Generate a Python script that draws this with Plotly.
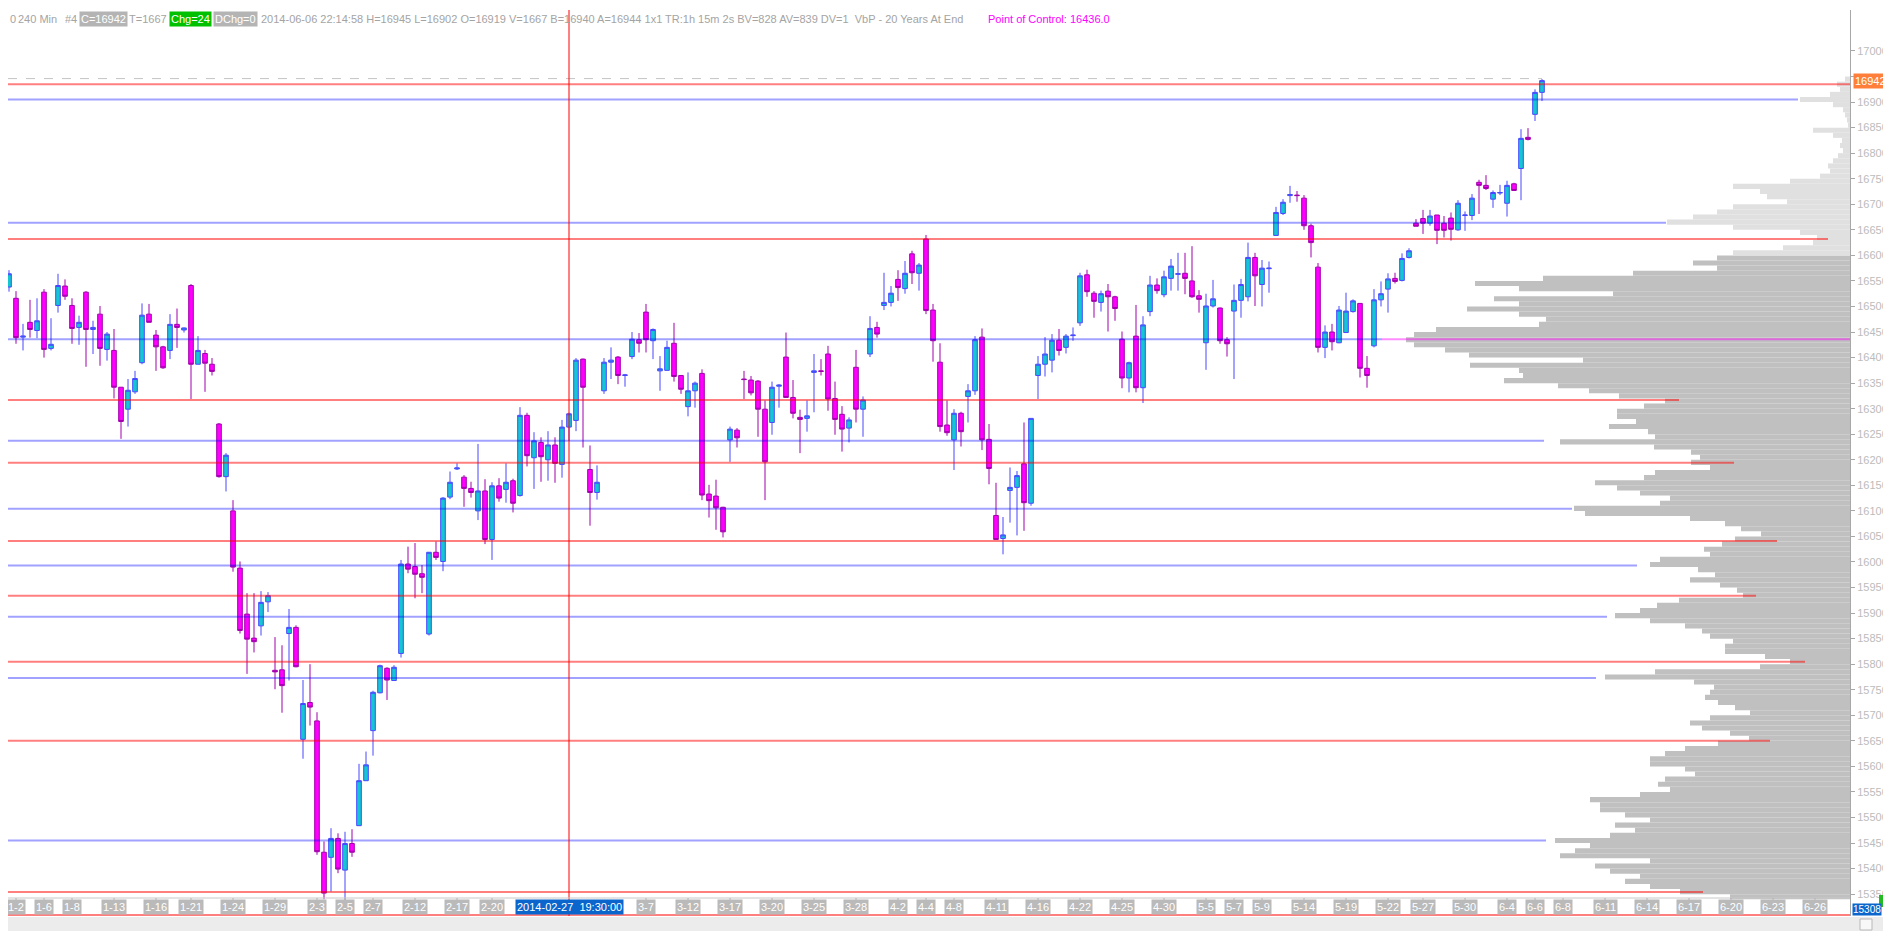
import plotly.graph_objects as go

# YM 240 min bars, 2014-01-02 .. 2014-06-06 (bar index 0..220)
bar_open = [16487, 16538, 16516, 16440, 16469, 16453, 16528, 16418, 16502, 16540,
            16502, 16459, 16528, 16455, 16485, 16416, 16414, 16342, 16299, 16333,
            16390, 16485, 16444, 16421, 16414, 16465, 16454, 16541, 16387, 16408,
            16387, 16270, 16167, 16100, 15988, 15898, 15851, 15875, 15922, 15788,
            15789, 15860, 15872, 15653, 15725, 15689, 15432, 15422, 15459, 15397,
            15449, 15484, 15572, 15670, 15744, 15792, 15768, 15821, 15996, 15991,
            15977, 15859, 16019, 16001, 16127, 16182, 16166, 16144, 16100, 16139,
            16044, 16149, 16142, 16159, 16130, 16287, 16204, 16234, 16200, 16229,
            16191, 16264, 16277, 16397, 16181, 16136, 16335, 16391, 16401, 16365,
            16402, 16435, 16489, 16433, 16374, 16375, 16428, 16365, 16304, 16335,
            16369, 16133, 16129, 16107, 16239, 16258, 16358, 16356, 16354, 16299,
            16273, 16344, 16401, 16322, 16283, 16281, 16371, 16374, 16407, 16320,
            16289, 16262, 16381, 16299, 16407, 16459, 16502, 16508, 16553, 16535,
            16603, 16565, 16632, 16493, 16391, 16268, 16239, 16291, 16324, 16335,
            16440, 16240, 16091, 16046, 16140, 16146, 16192, 16115, 16365, 16387,
            16395, 16434, 16420, 16443, 16468, 16562, 16526, 16508, 16530, 16519,
            16436, 16360, 16442, 16341, 16490, 16542, 16523, 16555, 16563, 16565,
            16550, 16521, 16429, 16501, 16497, 16435, 16491, 16512, 16519, 16596,
            16543, 16574, 16639, 16682, 16717, 16718, 16712, 16658, 16577, 16420,
            16450, 16429, 16449, 16490, 16506, 16379, 16423, 16513, 16534, 16555,
            16551, 16596, 16663, 16672, 16663, 16679, 16663, 16673, 16650, 16678,
            16678, 16743, 16737, 16710, 16722, 16702, 16740, 16770, 16831, 16876,
            16919]
bar_high = [16511, 16571, 16530, 16466, 16513, 16516, 16534, 16477, 16564, 16553,
            16516, 16482, 16530, 16472, 16501, 16450, 16456, 16342, 16358, 16374,
            16506, 16505, 16454, 16423, 16485, 16496, 16459, 16544, 16442, 16415,
            16399, 16272, 16213, 16121, 16001, 15939, 15939, 15943, 15941, 15853,
            15837, 15908, 15876, 15769, 15800, 15706, 15453, 15479, 15469, 15472,
            15477, 15605, 15629, 15748, 15799, 15794, 15798, 16004, 16030, 16037,
            15994, 16019, 16040, 16127, 16177, 16193, 16170, 16157, 16231, 16162,
            16156, 16164, 16193, 16163, 16303, 16292, 16254, 16244, 16256, 16244,
            16278, 16292, 16399, 16398, 16228, 16189, 16399, 16420, 16403, 16368,
            16450, 16448, 16505, 16457, 16403, 16433, 16468, 16365, 16371, 16353,
            16377, 16151, 16161, 16108, 16265, 16262, 16374, 16364, 16356, 16316,
            16353, 16348, 16449, 16356, 16298, 16316, 16407, 16397, 16423, 16353,
            16305, 16283, 16415, 16324, 16481, 16470, 16566, 16540, 16571, 16589,
            16609, 16585, 16640, 16505, 16428, 16316, 16299, 16294, 16348, 16442,
            16457, 16270, 16155, 16088, 16185, 16178, 16273, 16281, 16403, 16440,
            16446, 16456, 16446, 16459, 16566, 16572, 16530, 16531, 16544, 16521,
            16451, 16392, 16503, 16481, 16560, 16555, 16570, 16593, 16605, 16605,
            16618, 16532, 16525, 16552, 16498, 16440, 16543, 16554, 16625, 16605,
            16591, 16588, 16695, 16710, 16736, 16726, 16718, 16662, 16585, 16463,
            16466, 16501, 16527, 16514, 16506, 16403, 16534, 16549, 16565, 16566,
            16604, 16614, 16671, 16689, 16689, 16679, 16677, 16684, 16708, 16686,
            16720, 16748, 16757, 16727, 16738, 16746, 16742, 16847, 16849, 16925,
            16945]
bar_low = [16481, 16529, 16427, 16414, 16439, 16438, 16400, 16414, 16488, 16513,
           16427, 16425, 16382, 16407, 16384, 16394, 16320, 16241, 16265, 16329,
           16387, 16469, 16374, 16378, 16397, 16419, 16449, 16319, 16387, 16333,
           16365, 16165, 16138, 15981, 15860, 15781, 15823, 15856, 15902, 15751,
           15705, 15768, 15794, 15615, 15680, 15427, 15340, 15355, 15391, 15312,
           15423, 15484, 15572, 15621, 15743, 15730, 15768, 15813, 15978, 15929,
           15939, 15856, 16004, 15982, 16123, 16180, 16108, 16126, 16082, 16035,
           16004, 16118, 16116, 16097, 16128, 16187, 16143, 16157, 16159, 16155,
           16165, 16237, 16256, 16224, 16071, 16122, 16329, 16358, 16348, 16343,
           16397, 16410, 16410, 16397, 16335, 16375, 16353, 16329, 16285, 16302,
           16121, 16087, 16063, 16048, 16196, 16224, 16319, 16326, 16245, 16121,
           16249, 16302, 16322, 16281, 16213, 16255, 16293, 16365, 16296, 16249,
           16216, 16234, 16273, 16245, 16401, 16439, 16493, 16500, 16511, 16525,
           16544, 16531, 16485, 16392, 16255, 16247, 16180, 16226, 16273, 16327,
           16219, 16152, 16044, 16015, 16077, 16052, 16061, 16110, 16319, 16363,
           16371, 16404, 16408, 16433, 16462, 16519, 16478, 16490, 16451, 16472,
           16340, 16332, 16332, 16311, 16481, 16525, 16518, 16531, 16531, 16524,
           16517, 16488, 16376, 16498, 16427, 16402, 16358, 16478, 16510, 16501,
           16500, 16527, 16639, 16679, 16703, 16705, 16650, 16596, 16410, 16399,
           16414, 16428, 16449, 16488, 16361, 16341, 16420, 16500, 16488, 16545,
           16549, 16594, 16657, 16642, 16658, 16622, 16635, 16629, 16648, 16648,
           16669, 16681, 16728, 16693, 16718, 16676, 16727, 16708, 16825, 16863,
           16902]
bar_close = [16503, 16564, 16439, 16442, 16455, 16472, 16416, 16426, 16541, 16520,
             16457, 16469, 16455, 16459, 16418, 16446, 16342, 16275, 16336, 16359,
             16483, 16469, 16421, 16380, 16465, 16459, 16458, 16387, 16414, 16389,
             16373, 16167, 16209, 15990, 15866, 15849, 15844, 15921, 15934, 15785,
             15758, 15872, 15795, 15723, 15716, 15433, 15352, 15459, 15399, 15449,
             15432, 15572, 15603, 15745, 15797, 15769, 15794, 15996, 15986, 15976,
             15970, 16019, 16009, 16125, 16156, 16184, 16144, 16136, 16139, 16044,
             16149, 16125, 16156, 16115, 16287, 16208, 16237, 16206, 16229, 16193,
             16264, 16290, 16395, 16342, 16136, 16156, 16391, 16395, 16365, 16366,
             16436, 16428, 16435, 16455, 16378, 16420, 16363, 16338, 16335, 16350,
             16131, 16120, 16106, 16059, 16260, 16243, 16357, 16331, 16299, 16196,
             16342, 16346, 16322, 16291, 16279, 16286, 16374, 16373, 16319, 16279,
             16260, 16278, 16299, 16317, 16457, 16446, 16508, 16526, 16537, 16565,
             16566, 16581, 16492, 16433, 16265, 16253, 16291, 16255, 16335, 16435,
             16239, 16183, 16044, 16053, 16146, 16169, 16116, 16281, 16387, 16407,
             16434, 16414, 16442, 16444, 16560, 16529, 16510, 16525, 16519, 16496,
             16360, 16390, 16341, 16464, 16542, 16531, 16558, 16579, 16564, 16555,
             16519, 16514, 16501, 16515, 16433, 16427, 16512, 16543, 16596, 16560,
             16575, 16575, 16684, 16704, 16719, 16717, 16658, 16625, 16420, 16450,
             16431, 16493, 16491, 16511, 16379, 16365, 16513, 16525, 16554, 16549,
             16594, 16609, 16657, 16663, 16677, 16649, 16649, 16651, 16702, 16679,
             16712, 16737, 16731, 16723, 16723, 16737, 16727, 16829, 16827, 16919,
             16942]

# date labels on the time scale (bar index where each date starts)
date_ticks = [2, 6, 10, 16, 22, 27, 33, 39, 45, 49, 53, 59, 65, 70, 92, 98, 104,
              110, 116, 122, 128, 132, 136, 142, 148, 154, 160, 166, 172, 176, 180,
              186, 192, 198, 203, 209, 215, 219, 223, 229, 235, 241, 247, 253, 259]
date_labels = ["1-2", "1-6", "1-8", "1-13", "1-16", "1-21", "1-24", "1-29", "2-3",
               "2-5", "2-7", "2-12", "2-17", "2-20", "3-7", "3-12", "3-17", "3-20",
               "3-25", "3-28", "4-2", "4-4", "4-8", "4-11", "4-16", "4-22", "4-25",
               "4-30", "5-5", "5-7", "5-9", "5-14", "5-19", "5-22", "5-27", "5-30",
               "6-4", "6-6", "6-8", "6-11", "6-14", "6-17", "6-20", "6-23", "6-26"]
cursor_bar = 81
cursor_label = "2014-02-27  19:30:00"

# volume by price, 10 point rows starting at 15345
profile_vol = [120, 170, 200, 225, 210, 240, 255, 200, 290, 275, 260,
               295, 240, 215, 235, 200, 225, 250, 250, 260, 210,
               180, 192, 185, 155, 165, 200, 200, 185, 165, 132,
               101, 120, 148, 160, 140, 100, 115, 132, 145, 140,
               136, 156, 245, 195, 90, 60, 85, 125, 125, 117,
               140, 148, 165, 200, 235, 210, 193, 171, 107, 113,
               130, 160, 135, 152, 200, 190, 140, 146, 128, 115,
               89, 109, 125, 160, 265, 276, 190, 180, 210, 233,
               255, 206, 195, 140, 159, 150, 159, 196, 290, 195,
               202, 241, 214, 233, 233, 206, 185, 231, 261, 292,
               346, 327, 331, 380, 267, 381, 405, 436, 444, 436,
               414, 311, 304, 331, 383, 331, 356, 237, 331, 375,
               307, 217, 133, 157, 133, 117, 67, 37, 33, 50,
               117, 183, 157, 133, 117, 63, 83, 90, 117, 60,
               30, 20, 22, 17, 12, 7, 10, 8, 17, 37,
               2, 3, 5, 7, 17, 50, 20, 10, 13, 5]
profile_price = [15345 + 10 * k for k in range(len(profile_vol))]
value_area_high = 16605
poc = 16436.0

# high volume nodes (blue) and low volume nodes (red), with the volume where each line stops
hvn_levels = [16905, 16664, 16436, 16237, 16104, 15993, 15893, 15773, 15455]
hvn_reach = [52, 184, 468, 306, 278, 213, 243, 254, 304]
lvn_levels = [16935, 16632, 16317, 16194, 16041, 15934, 15805, 15650, 15354, 15309]
lvn_reach = [0, 22, 171, 116, 73, 94, 45, 80, 147, 0]

last_price = 16942
bottom_price = 15308
price_ticks = list(range(15350, 17001, 50))

# the page body has an 8px margin, so the figure sits at (8, 8) in the window
OFF = 8
WIN_W, WIN_H = 1891, 931
W, H = WIN_W - OFF, WIN_H - OFF
PLOT_L, PLOT_R, PLOT_T, PLOT_B = 8, 1850, 10, 916   # window pixels
ML, MR, MT, MB = PLOT_L - OFF, WIN_W - PLOT_R, PLOT_T - OFF, WIN_H - PLOT_B
plot_w = PLOT_R - PLOT_L
plot_h = PLOT_B - PLOT_T

FONT = "Liberation Sans, Arial, sans-serif"
GRAY_TXT = "#a4a4a4"

fig = go.Figure()

fig.add_trace(go.Bar(
    y=profile_price, x=profile_vol, orientation="h", width=10,
    xaxis="x2", yaxis="y",
    marker=dict(color=["#c0c0c0" if p < value_area_high else "#e0e0e0" for p in profile_price],
                line_width=0),
    hoverinfo="skip", showlegend=False,
))

fig.add_trace(go.Candlestick(
    x=list(range(len(bar_open))), open=bar_open, high=bar_high, low=bar_low, close=bar_close,
    increasing=dict(line=dict(color="#4848ff", width=1), fillcolor="#12c8d0"),
    decreasing=dict(line=dict(color="#a000aa", width=1), fillcolor="#ff00ff"),
    whiskerwidth=0, hoverinfo="skip", showlegend=False,
))

# bar i is drawn at window x = 2 + 7 i
x_left = (PLOT_L - 2) / 7
x_right = (PLOT_R - 2) / 7

shapes = []
for lvl, reach in zip(hvn_levels, hvn_reach):
    shapes.append(dict(type="line", xref="x2", yref="y", x0=plot_w, x1=reach, y0=lvl, y1=lvl,
                       line=dict(color="rgba(0,0,255,0.37)", width=2)))
for lvl, reach in zip(lvn_levels, lvn_reach):
    shapes.append(dict(type="line", xref="x2", yref="y", x0=plot_w, x1=reach, y0=lvl, y1=lvl,
                       line=dict(color="rgba(255,0,0,0.5)", width=2)))
# point of control extension
shapes.append(dict(type="line", xref="x2", yref="y", x0=hvn_reach[hvn_levels.index(round(poc))], x1=0,
                   y0=poc, y1=poc, line=dict(color="rgba(255,0,255,0.45)", width=2)))
# dotted high line
shapes.append(dict(type="line", xref="x", yref="y", x0=x_left, x1=len(bar_high) - 1,
                   y0=max(bar_high) + 1, y1=max(bar_high) + 1,
                   line=dict(color="#c4c4c4", width=1, dash="dash")))
# cursor line
shapes.append(dict(type="line", xref="x", yref="paper", x0=cursor_bar, x1=cursor_bar, y0=0, y1=1,
                   line=dict(color="#ff0000", width=1)))

py = lambda wy: (PLOT_B - wy) / plot_h
px_ = lambda wx: (wx - PLOT_L) / plot_w

# time scale strip
shapes.append(dict(type="line", xref="paper", yref="paper", x0=0, x1=1, y0=py(898), y1=py(898),
                   line=dict(color="#c8c8c8", width=1)))
for t in date_ticks:
    shapes.append(dict(type="line", xref="x", yref="paper", x0=t, x1=t, y0=py(902), y1=py(898),
                       line=dict(color="#b0b0b0", width=1)))
# window chrome at the bottom
shapes.append(dict(type="rect", xref="paper", yref="paper", x0=0, x1=px_(WIN_W), y0=py(917), y1=py(WIN_H),
                   fillcolor="#ececec", line_width=0))
shapes.append(dict(type="rect", xref="paper", yref="paper", x0=px_(1860), x1=px_(1872), y0=py(919), y1=py(930),
                   fillcolor="#f8f8f8", line=dict(color="#b8b8b8", width=1)))
shapes.append(dict(type="rect", xref="paper", yref="paper", x0=px_(1879), x1=px_(WIN_W), y0=py(895), y1=py(907),
                   fillcolor="#22bb22", line_width=0))

annotations = []
for t, lab in zip(date_ticks, date_labels):
    annotations.append(dict(x=t, xref="x", y=py(915), yref="paper", yanchor="bottom", text=lab,
                            showarrow=False, bgcolor="#bababa", borderpad=1,
                            font=dict(family=FONT, size=11, color="white")))
annotations.append(dict(x=cursor_bar, xref="x", y=py(915), yref="paper", yanchor="bottom", text=cursor_label,
                        showarrow=False, bgcolor="#0a66cc", borderpad=1,
                        font=dict(family=FONT, size=11, color="white")))

# header line
hy = py(19)
header = [
    (8, "0", None, GRAY_TXT),
    (16, "240 Min", None, GRAY_TXT),
    (63, "#4", None, GRAY_TXT),
    (79, "C=16942", "#b4b4b4", "white"),
    (127, "T=1667", None, GRAY_TXT),
    (169, "Chg=24", "#00c000", "white"),
    (213, "DChg=0", "#b4b4b4", "white"),
    (259, "2014-06-06 22:14:58 H=16945 L=16902 O=16919 V=1667 B=16940 A=16944 1x1 "
          "TR:1h 15m 2s BV=828 AV=839 DV=1  VbP - 20 Years At End", None, GRAY_TXT),
    (986, "Point of Control: 16436.0", None, "#ff00ff"),
]
for hx, txt, bg, col in header:
    annotations.append(dict(x=px_(hx), xref="paper", y=hy, yref="paper", xanchor="left", yanchor="middle",
                            text=txt, showarrow=False, bgcolor=bg or "rgba(0,0,0,0)", borderpad=1,
                            font=dict(family=FONT, size=11, color=col)))

annotations.append(dict(x=1, xref="paper", xshift=3, xanchor="left", y=last_price, yref="y",
                        yanchor="middle", text=str(last_price), showarrow=False, bgcolor="#ff7f3a",
                        borderpad=1, font=dict(family=FONT, size=11, color="white")))
annotations.append(dict(x=1, xref="paper", xshift=2, xanchor="left", y=py(916), yref="paper",
                        yanchor="bottom", text=str(bottom_price), showarrow=False, bgcolor="#0a66cc",
                        borderpad=0, font=dict(family=FONT, size=10, color="white")))

# the last-price box covers the tick label just above it
tick_text = ["" if abs(v - last_price) < 15 else str(v) for v in price_ticks]

fig.update_layout(
    width=W, height=H,
    margin=dict(l=ML, r=MR, t=MT, b=MB),
    paper_bgcolor="white", plot_bgcolor="white",
    showlegend=False, hovermode=False,
    boxgap=0.1, boxgroupgap=0.27,
    xaxis=dict(range=[x_left, x_right], showgrid=False, zeroline=False, showticklabels=False,
               showline=False, ticks="", rangeslider=dict(visible=False), fixedrange=True),
    xaxis2=dict(overlaying="x", anchor="y", range=[plot_w, 0], visible=False, fixedrange=True),
    yaxis=dict(range=[15307.2, 17080.2], side="right", showgrid=False, zeroline=False,
               tickvals=price_ticks, ticktext=tick_text,
               ticks="outside", ticklen=4,
               tickcolor="#a8a8a8", showline=True, linecolor="#a8a8a8", linewidth=1,
               tickfont=dict(family=FONT, size=11, color="#bcbcbc"), fixedrange=True),
    shapes=shapes, annotations=annotations,
)

fig.write_html("out.html")
